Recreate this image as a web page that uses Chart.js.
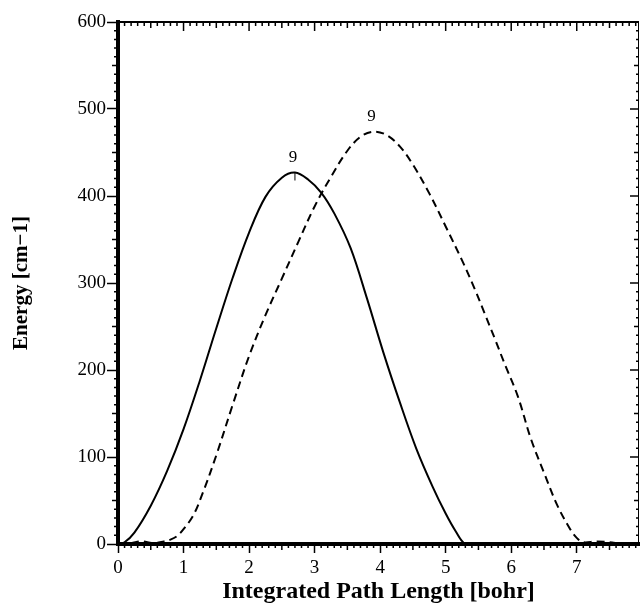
<!DOCTYPE html>
<html>
<head>
<meta charset="utf-8">
<script src="https://cdn.jsdelivr.net/npm/chart.js@4.4.1/dist/chart.umd.min.js"></script>
<style>
  html, body { margin: 0; padding: 0; background: #fff; }
  #wrap { width: 640px; height: 606px; position: relative; }
</style>
</head>
<body>
<div id="wrap"><canvas id="pathChart"></canvas></div>
<script>
// solid curve
const solidX = [0, 0.1, 0.25, 0.5, 0.75, 1.0, 1.25, 1.5, 1.75, 2.0, 2.25, 2.5, 2.7, 2.9, 3.1, 3.3, 3.55, 3.8, 4.05, 4.3, 4.55, 4.8, 5.0, 5.15, 5.3, 5.5, 7.95];
const solidY = [0, 2, 13, 44, 84, 132, 188, 248, 306, 358, 399, 421, 427, 419, 404, 380, 340, 282, 220, 163, 110, 66, 35, 15, 0, 0, 0];

// dashed curve
const dashedX = [0, 0.2, 0.35, 0.55, 0.7, 0.8, 0.9, 1.0, 1.15, 1.3, 1.5, 1.75, 2.0, 2.25, 2.5, 2.75, 3.0, 3.25, 3.5, 3.7, 3.9, 4.1, 4.3, 4.5, 4.75, 5.0, 5.25, 5.45, 5.6, 5.75, 5.9, 6.1, 6.3, 6.5, 6.7, 6.9, 7.0, 7.1, 7.3, 7.5, 7.7, 7.95];
const dashedY = [0, 1, 3, 1, 3, 5, 9, 17, 33, 60, 102, 160, 216, 263, 305, 347, 388, 422, 452, 468, 474, 470, 457, 436, 403, 365, 326, 292, 264, 236, 207, 170, 121, 82, 45, 17, 7, 2, 3, 2, 0, 0];

const peakLabels = ['9', '9'];

const xTitle = 'Integrated Path Length [bohr]';
const yTitle = 'Energy [cm\u22121]';

const serif = '"Liberation Serif", "DejaVu Serif", serif';

function pts(xs, ys) {
    return xs.map((x, i) => ({ x: x, y: ys[i] }));
}

// minor ticks, top/right frame and peak labels
const framePlugin = {
    id: 'frame',
    afterDraw(chart) {
        const ctx = chart.ctx;
        const xs = chart.scales.x;
        const ys = chart.scales.y;
        const a = chart.chartArea;
        ctx.save();
        ctx.strokeStyle = '#000';

        // top and right borders
        ctx.lineWidth = 2;
        ctx.beginPath();
        ctx.moveTo(a.left, a.top);
        ctx.lineTo(a.right, a.top);
        ctx.stroke();
        ctx.lineWidth = 1;
        ctx.beginPath();
        ctx.moveTo(a.right - 0.5, a.top);
        ctx.lineTo(a.right - 0.5, a.bottom);
        ctx.stroke();

        // x minor ticks (bottom outward, top inward)
        ctx.lineWidth = 1.5;
        for (let i = 0; i <= 79; i++) {
            const v = i / 10;
            if (v > xs.max) break;
            const px = xs.getPixelForValue(v);
            const major = i % 10 === 0;
            const mid = i % 5 === 0;
            ctx.beginPath();
            if (!major) {
                ctx.moveTo(px, a.bottom);
                ctx.lineTo(px, a.bottom + (mid ? 6 : 4));
            }
            ctx.moveTo(px, a.top);
            ctx.lineTo(px, a.top + (major ? 9 : (mid ? 6 : 4)));
            ctx.stroke();
        }

        // y minor ticks (left outward, right inward)
        for (let i = 0; i <= 60; i++) {
            const v = i * 10;
            const py = ys.getPixelForValue(v);
            const major = i % 10 === 0;
            const mid = i % 5 === 0;
            ctx.beginPath();
            if (!major) {
                ctx.moveTo(a.left, py);
                ctx.lineTo(a.left - (mid ? 6 : 4), py);
            }
            ctx.moveTo(a.right, py);
            ctx.lineTo(a.right - (major ? 9 : (mid ? 5 : 3)), py);
            ctx.stroke();
        }

        // peak labels
        ctx.fillStyle = '#000';
        ctx.font = '17px ' + serif;
        ctx.textAlign = 'center';
        ctx.textBaseline = 'middle';
        chart.data.datasets.forEach((ds, di) => {
            let best = 0;
            ds.data.forEach((p, i) => { if (p.y > ds.data[best].y) best = i; });
            const px = xs.getPixelForValue(ds.data[best].x);
            const py = ys.getPixelForValue(ds.data[best].y);
            ctx.fillText(peakLabels[di], px - 2, py - 15);
            if (di === 0) {
                ctx.lineWidth = 1;
                ctx.beginPath();
                ctx.moveTo(px, py);
                ctx.lineTo(px, py + 8);
                ctx.stroke();
            }
        });
        ctx.restore();
    }
};

new Chart(document.getElementById('pathChart'), {
    type: 'line',
    data: {
        datasets: [
            {
                label: 'solid',
                data: pts(solidX, solidY),
                borderColor: '#000',
                borderWidth: 2,
                pointRadius: 0,
                tension: 0.35,
                fill: false
            },
            {
                label: 'dashed',
                data: pts(dashedX, dashedY),
                borderColor: '#000',
                borderWidth: 2,
                borderDash: [8, 5],
                pointRadius: 0,
                tension: 0.35,
                fill: false
            }
        ]
    },
    options: {
        responsive: true,
        maintainAspectRatio: false,
        animation: false,
        layout: { padding: { top: 22, right: 1, left: 0, bottom: 0 } },
        plugins: {
            legend: { display: false },
            tooltip: { enabled: false }
        },
        scales: {
            x: {
                type: 'linear',
                min: 0,
                max: 7.95,
                afterFit: s => { s.height = 62; },
                border: { display: true, color: '#000', width: 4, z: 1 },
                grid: { drawOnChartArea: false, drawTicks: true, tickLength: 9, tickWidth: 1.5, color: '#000' },
                ticks: {
                    stepSize: 1,
                    includeBounds: false,
                    padding: 4,
                    color: '#000',
                    font: { family: serif, size: 19 }
                },
                title: {
                    display: true,
                    text: xTitle,
                    color: '#000',
                    padding: { top: 0, bottom: 0 },
                    font: { family: serif, size: 24, weight: 'bold' }
                }
            },
            y: {
                type: 'linear',
                min: 0,
                max: 600,
                afterFit: s => { s.width = 118; },
                border: { display: true, color: '#000', width: 4, z: 1 },
                grid: { drawOnChartArea: false, drawTicks: true, tickLength: 11, tickWidth: 1.5, color: '#000' },
                ticks: {
                    stepSize: 100,
                    padding: 1,
                    color: '#000',
                    font: { family: serif, size: 19 }
                },
                title: {
                    display: true,
                    text: yTitle,
                    color: '#000',
                    padding: { top: 9, bottom: 0 },
                    font: { family: serif, size: 21, weight: 'bold' }
                }
            }
        }
    },
    plugins: [framePlugin]
});
</script>
</body>
</html>
